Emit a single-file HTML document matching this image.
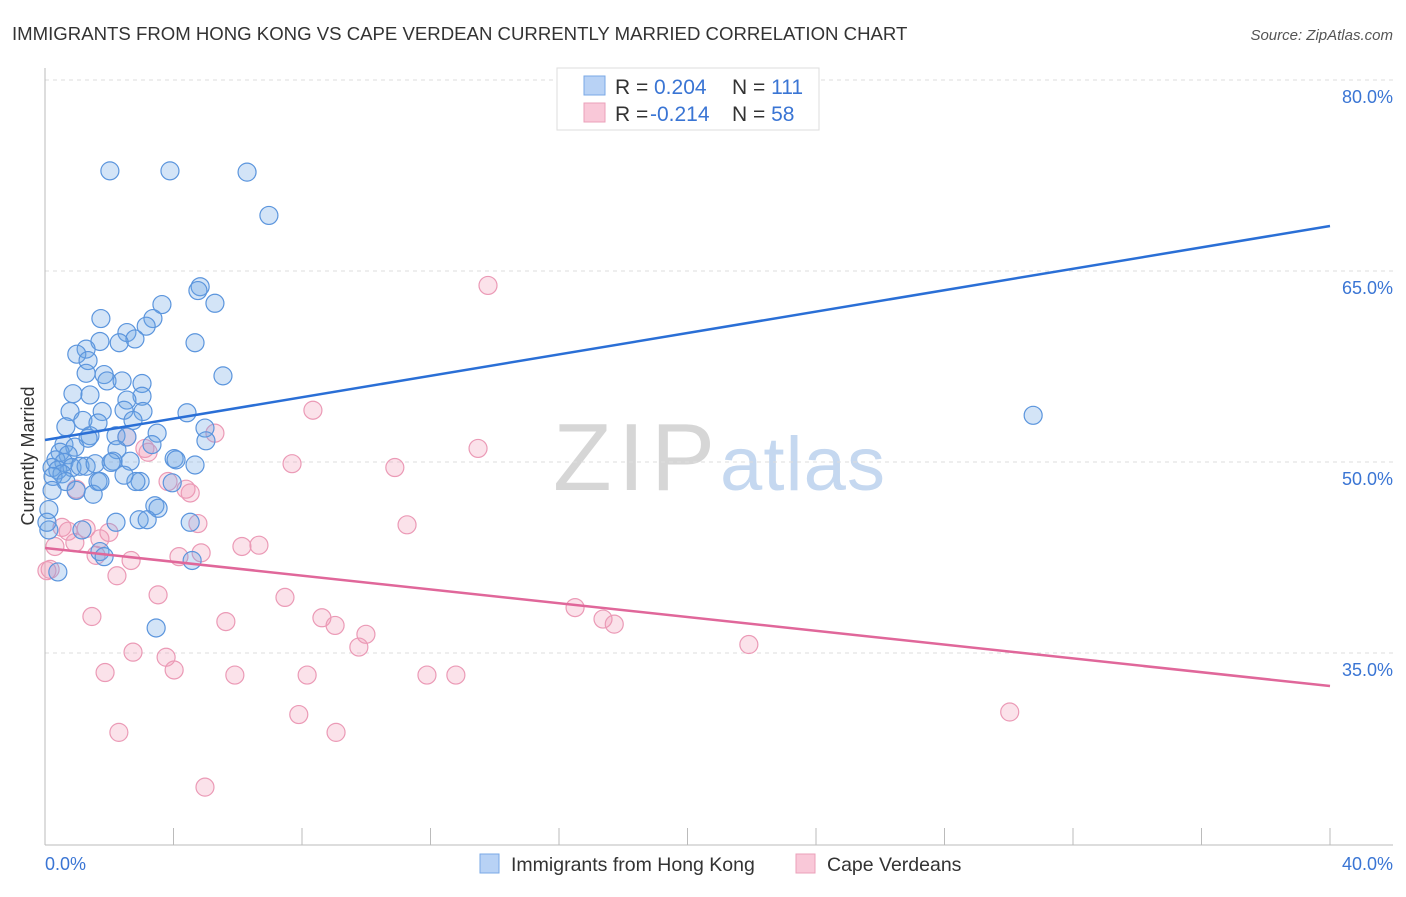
<!DOCTYPE html>
<html><head><meta charset="utf-8">
<style>
body{margin:0;background:#fff;font-family:"Liberation Sans",sans-serif;}
svg text{font-family:"Liberation Sans",sans-serif;}
</style></head>
<body>
<svg id="chart" width="1406" height="892" viewBox="0 0 1406 892">
<text x="12" y="40" font-size="18.6" fill="#333">IMMIGRANTS FROM HONG KONG VS CAPE VERDEAN CURRENTLY MARRIED CORRELATION CHART</text>
<text x="1393" y="40" font-size="15" fill="#555" font-style="italic" text-anchor="end">Source: ZipAtlas.com</text>
<g>
<text x="553" y="490" font-size="96" fill="#d6d6d6" font-family="Liberation Serif, serif" textLength="162">ZIP</text>
<text x="720" y="490" font-size="76" fill="#c5d8f0" textLength="165">atlas</text>
</g>
<g id="grid"></g>
<g id="axes"></g>
<g id="marks"></g>
<g id="lines"></g>
<text x="34" y="456" font-size="18" fill="#333" text-anchor="middle" transform="rotate(-90 34 456)">Currently Married</text>
<text x="45" y="870" font-size="18" fill="#3a75d4">0.0%</text>
<text x="1393" y="870" font-size="18" fill="#3a75d4" text-anchor="end">40.0%</text>
<g>
<rect x="557" y="68" width="262" height="62" fill="#fff" stroke="#ddd"/>
<rect x="584" y="76" width="21" height="19" fill="#b8d2f5" stroke="#7aa8e6"/>
<rect x="584" y="103" width="21" height="19" fill="#f9c8d8" stroke="#eba0ba"/>
<text x="615" y="94" font-size="21" fill="#333">R = <tspan fill="#3a75d4" x="654">0.204</tspan><tspan x="732">N = </tspan><tspan fill="#3a75d4">111</tspan></text>
<text x="615" y="121" font-size="21" fill="#333">R = <tspan fill="#3a75d4" x="650">-0.214</tspan><tspan x="732">N = </tspan><tspan fill="#3a75d4">58</tspan></text>
</g>
<g>
<rect x="480" y="854" width="19" height="19" fill="#b8d2f5" stroke="#7aa8e6"/>
<text x="511" y="871" font-size="19.5" fill="#333">Immigrants from Hong Kong</text>
<rect x="796" y="854" width="19" height="19" fill="#f9c8d8" stroke="#eba0ba"/>
<text x="827" y="871" font-size="19.5" fill="#333">Cape Verdeans</text>
</g>
</svg>
<script>
const yTicks=[80,65,50,35];
const yTickLabels=["80.0%","65.0%","50.0%","35.0%"];
const xTicks=[0,4,8,12,16,20,24,28,32,36,40];
const blueX=[2.02,3.89,6.29,6.97,4.83,4.76,5.29,3.64,3.36,1.74,3.15,2.55,2.80,1.71,2.31,4.67,1.28,0.99,1.34,5.54,1.28,1.84,1.93,2.40,3.02,0.87,1.40,3.02,2.55,2.46,1.78,0.78,3.05,4.42,1.18,1.65,2.74,0.65,4.98,1.40,2.21,1.34,2.55,3.49,3.33,5.01,0.59,0.93,2.24,0.47,0.72,0.34,0.59,0.22,0.40,0.84,1.09,1.28,2.12,2.06,2.65,1.56,4.02,4.08,4.67,0.53,0.25,0.65,2.96,2.83,2.46,0.22,0.97,1.65,1.50,0.12,2.21,3.42,3.52,4.52,2.93,3.18,1.15,1.71,1.84,4.58,0.40,3.46,30.76,0.12,0.06,1.71,3.96];
const blueY=[74.2,74.2,74.1,70.7,65.1,64.8,63.8,63.7,62.6,62.6,62.0,61.5,61.0,60.8,60.7,60.7,60.2,59.8,59.3,58.1,58.3,58.2,57.7,57.7,57.5,56.7,56.6,56.5,56.2,55.4,55.3,55.3,55.3,55.2,54.6,54.4,54.6,54.1,54.0,53.4,53.4,53.2,53.3,53.6,52.7,53.0,52.7,52.5,52.3,52.1,51.9,51.5,51.3,50.9,50.7,50.9,51.0,51.0,51.4,51.3,51.4,51.2,51.6,51.5,51.1,50.4,50.2,49.8,49.8,49.8,50.3,49.1,49.1,49.8,48.8,47.6,46.6,47.9,47.7,46.6,46.8,46.8,46.0,44.3,43.9,43.6,42.7,38.3,55.0,46.0,46.6,49.8,49.7];
const pinkX=[13.79,8.34,5.29,13.48,3.11,3.21,2.55,7.69,10.89,3.83,4.39,4.52,0.97,11.27,4.76,0.53,0.72,1.28,1.99,1.71,0.93,0.31,0.16,6.66,6.13,4.86,4.17,1.59,2.68,2.24,7.47,3.52,16.50,17.37,17.72,8.62,9.03,5.63,1.46,9.99,9.77,21.91,2.74,3.77,1.87,4.02,5.91,8.16,11.89,12.79,7.90,9.06,2.30,4.98,30.03,0.06];
const pinkY=[65.2,55.4,53.6,52.4,52.4,52.1,53.3,51.2,50.9,49.8,49.2,48.9,49.2,46.4,46.5,46.2,45.9,46.1,45.8,45.3,45.0,44.7,42.9,44.8,44.7,44.2,43.9,44.0,43.6,42.4,40.7,40.9,39.9,39.0,38.6,39.1,38.5,38.8,39.2,37.8,36.8,37.0,36.4,36.0,34.8,35.0,34.6,34.6,34.6,34.6,31.5,30.1,30.1,25.8,31.7,42.8];
const blueTrend=[53.06,69.87];
const pinkTrend=[44.58,33.74];
const NS="http://www.w3.org/2000/svg";
function X(v){return 45+v*32.125;}
function Y(v){return 97+(80-v)*12.733;}
function mk(tag,attrs,parent){const e=document.createElementNS(NS,tag);for(const k in attrs)e.setAttribute(k,attrs[k]);document.getElementById(parent).appendChild(e);return e;}
yTicks.forEach((t,i)=>{
 const l=mk('line',{x1:45,x2:1393,y1:Y(t)-17,y2:Y(t)-17,stroke:'#ddd','stroke-dasharray':'4,4'},'grid');
 
 
 const tx=mk('text',{x:1393,y:Y(t)+6,'font-size':18,fill:'#3a75d4','text-anchor':'end'},'grid');
 tx.textContent=yTickLabels[i];
 
 
});
const ax=mk('line',{x1:45,x2:45,y1:68,y2:845,stroke:'#bbb'},'axes');


const bx=mk('line',{x1:45,x2:1393,y1:845,y2:845,stroke:'#bbb'},'axes');


xTicks.forEach(t=>{
 const l=mk('line',{x1:X(t),x2:X(t),y1:828,y2:845,stroke:'#bbb'},'axes');
 
 
});
pinkX.forEach((v,i)=>{
 const c=mk('circle',{cx:X(v),cy:Y(pinkY[i]),r:9,fill:'rgba(240,150,180,0.28)',stroke:'#eb9ab6','stroke-width':1.2},'marks');
 
 
});
blueX.forEach((v,i)=>{
 const c=mk('circle',{cx:X(v),cy:Y(blueY[i]),r:9,fill:'rgba(110,165,230,0.3)',stroke:'#5b95dd','stroke-width':1.2},'marks');
 
 
});
const bl=mk('line',{x1:X(0),x2:X(40),y1:Y(blueTrend[0]),y2:Y(blueTrend[1]),stroke:'#2a6fd6','stroke-width':2.5},'lines');


const pl=mk('line',{x1:X(0),x2:X(40),y1:Y(pinkTrend[0]),y2:Y(pinkTrend[1]),stroke:'#e0679a','stroke-width':2.5},'lines');


</script>
</body></html>
